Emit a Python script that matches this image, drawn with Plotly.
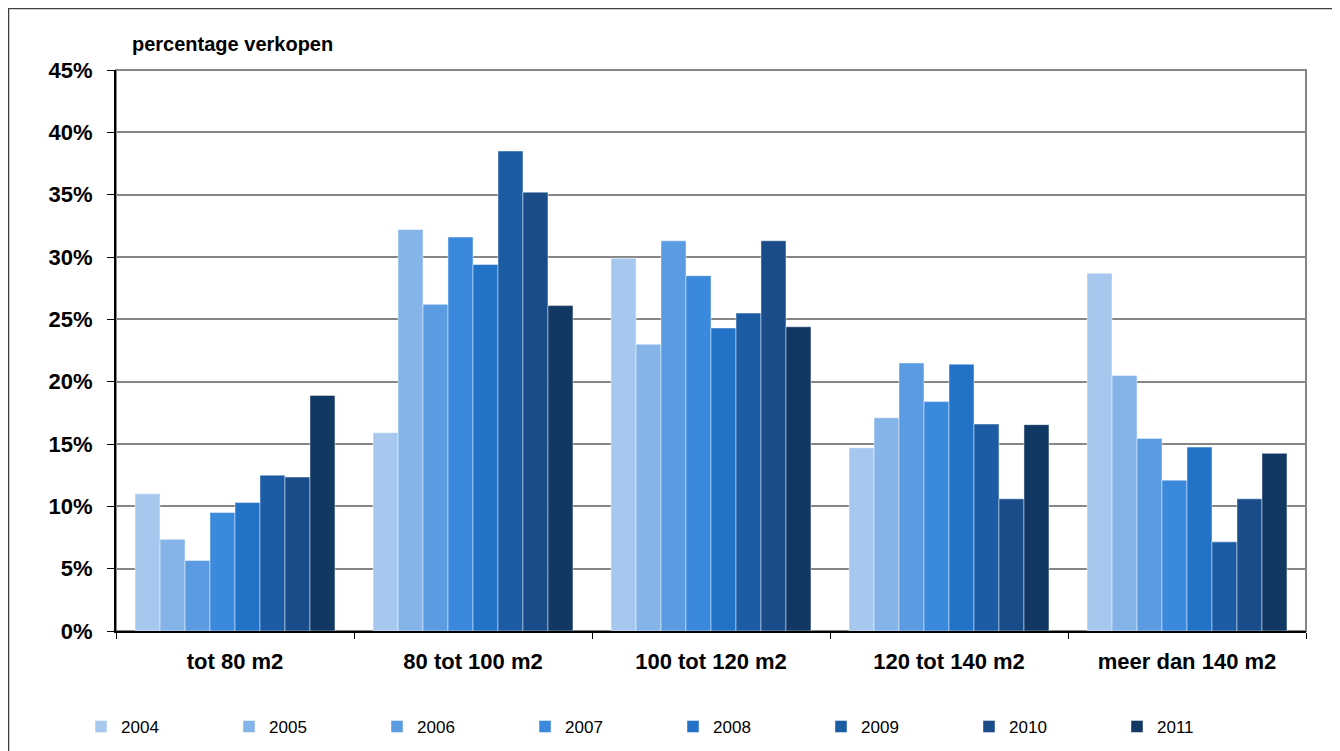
import plotly.graph_objects as go

categories = ["tot 80 m2", "80 tot 100 m2", "100 tot 120 m2", "120 tot 140 m2", "meer dan 140 m2"]
years = ["2004", "2005", "2006", "2007", "2008", "2009", "2010", "2011"]

v2004 = [11.0, 15.9, 29.9, 14.7, 28.7]
v2005 = [7.35, 32.2, 23.0, 17.1, 20.5]
v2006 = [5.65, 26.2, 31.3, 21.5, 15.45]
v2007 = [9.5, 31.6, 28.5, 18.4, 12.1]
v2008 = [10.3, 29.4, 24.3, 21.4, 14.75]
v2009 = [12.5, 38.5, 25.5, 16.6, 7.15]
v2010 = [12.35, 35.2, 31.3, 10.6, 10.6]
v2011 = [18.9, 26.1, 24.4, 16.55, 14.25]

series = [v2004, v2005, v2006, v2007, v2008, v2009, v2010, v2011]
colors = ["#A6C8EE", "#85B4E8", "#5A9BE2", "#3A89DD", "#2272C8", "#1B5CA5", "#194C89", "#113763"]

FONT = "Liberation Sans, Arial, sans-serif"

fig = go.Figure()
for name, vals, col in zip(years, series, colors):
    fig.add_trace(go.Bar(
        x=categories, y=vals, name=name,
        marker=dict(color=col, line=dict(color="rgba(255,255,255,0.45)", width=1)),
    ))

fig.update_layout(
    width=1332, height=743,
    margin=dict(l=108, r=34, t=62, b=120, autoexpand=False),
    paper_bgcolor="white", plot_bgcolor="white",
    barmode="group", bargap=0.16, bargroupgap=0,
    font=dict(family=FONT, color="black"),
    showlegend=True,
    legend=dict(
        orientation="h", x=-0.0294, xanchor="left", y=-0.171, yanchor="middle",
        font=dict(size=17, family=FONT, color="black"),
        entrywidth=103, entrywidthmode="pixels",
        itemwidth=30, traceorder="normal",
        bgcolor="rgba(0,0,0,0)",
    ),
    xaxis=dict(
        showline=True, linecolor="black", linewidth=2,
        ticks="outside", tickson="boundaries", ticklen=6, tickcolor="black", tickwidth=1,
        tickfont=dict(size=22, family=FONT, color="black", weight="bold"),
        ticklabelstandoff=10,
        showgrid=False, zeroline=False,
    ),
    yaxis=dict(
        range=[0, 45], dtick=5, ticksuffix="%",
        showline=True, linecolor="black", linewidth=2,
        ticks="outside", ticklen=7, tickcolor="black", tickwidth=1,
        tickfont=dict(size=22, family=FONT, color="black", weight="bold"),
        ticklabelstandoff=10,
        showgrid=True, gridcolor="#868686", gridwidth=2,
        zeroline=False,
    ),
    annotations=[dict(
        text="percentage verkopen", xref="paper", yref="paper",
        x=0.0118, y=1.046, xanchor="left", yanchor="middle", showarrow=False,
        font=dict(size=20, family=FONT, color="black", weight="bold"),
    )],
    shapes=[
        dict(type="rect", xref="paper", yref="paper", x0=0, x1=1, y0=0, y1=1,
             line=dict(color="#868686", width=2), layer="below"),
        dict(type="rect", xref="paper", yref="paper", x0=-0.0903, x1=1.0269, y0=-0.25, y1=1.1096,
             line=dict(color="#404040", width=1.5), layer="below"),
    ],
)

fig.write_html("out.html")
